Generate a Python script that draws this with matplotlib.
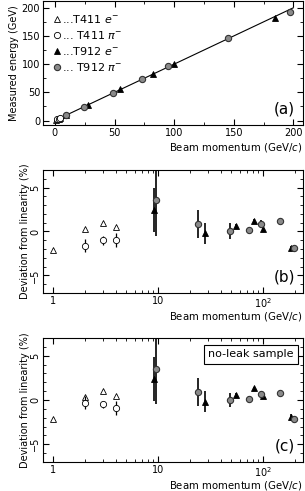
import matplotlib.pyplot as plt
import numpy as np
from matplotlib.ticker import FixedLocator, FixedFormatter, NullFormatter

plt.rcParams['font.family'] = 'DejaVu Sans'
plt.rcParams['font.size'] = 7

# T411 electrons / pions, T912 electrons / pions
p_t411e = [1, 2, 3, 4]
p_t411p = [2, 3, 4]
p_t912e = [9.2, 28, 55, 82, 100, 185]
p_t912p = [9.5, 24, 49, 73, 95, 145, 197]

# deviation from linearity (%) - panel (b), all events
dev_t411e = [-2.1, 0.3, 1.0, 0.5]
dev_t411p = [-1.6, -1.0, -1.0]
err_t411p = [0.7, 0.5, 0.8]
dev_t912e = [2.4, -0.2, 0.6, 1.2, 0.3, -1.9]
err_t912e = [2.5, 1.2, 0.2, 0.2, 0.2, 0.2]
dev_t912p = [3.6, 0.9, 0.1, 0.2, 0.9, 1.2, -1.9]
err_t912p = [4.1, 1.6, 0.9, 0.2, 0.4, 0.2, 0.2]

# panel (c), no-leak sample
nl_t411e = [-2.1, 0.3, 1.0, 0.5]
nl_t411p = [-0.3, -0.5, -0.9]
nl_err_t411p = [0.7, 0.4, 0.8]
nl_t912e = [2.4, -0.2, 0.6, 1.3, 0.4, -1.9]
nl_err_t912e = [2.5, 1.2, 0.2, 0.2, 0.2, 0.3]
nl_t912p = [3.5, 0.9, 0.0, 0.1, 0.7, 0.8, -2.1]
nl_err_t912p = [4.0, 1.6, 0.8, 0.3, 0.3, 0.2, 0.3]

xlab = 'Beam momentum (GeV/$c$)'

fig = plt.figure(figsize=(3.05, 4.91), dpi=100)
ax_a = fig.add_axes([0.141, 0.7454, 0.852, 0.2525])
ax_b = fig.add_axes([0.141, 0.4033, 0.852, 0.2505])
ax_c = fig.add_axes([0.141, 0.0591, 0.852, 0.2525])

ms = 4.5
st_e411 = dict(marker='^', mfc='white', mec='black', mew=0.6, ms=ms, ls='none')
st_p411 = dict(marker='o', mfc='white', mec='black', mew=0.6, ms=ms, ls='none')
st_e912 = dict(marker='^', mfc='black', mec='black', mew=0.6, ms=ms, ls='none')
st_p912 = dict(marker='o', mfc='#8a8a8a', mec='#333333', mew=0.8, ms=ms, ls='none')

# (a) measured energy
meas = lambda p, d: np.array(p) * (1 + np.array(d) / 100)
line = np.array([0, 200])
ax_a.plot(line, line, color='black', lw=0.8)
ax_a.plot(p_t411e, meas(p_t411e, dev_t411e), label='...T411 $e^{-}$', **st_e411)
ax_a.plot(p_t411p, meas(p_t411p, dev_t411p), label='... T411 $\\pi^{-}$', **st_p411)
ax_a.plot(p_t912e, meas(p_t912e, dev_t912e), label='...T912 $e^{-}$', **st_e912)
ax_a.plot(p_t912p, meas(p_t912p, dev_t912p), label='... T912 $\\pi^{-}$', **st_p912)
ax_a.set_xlim(-10, 208)
ax_a.set_ylim(-8, 212)
ax_a.set_xticks([0, 50, 100, 150, 200])
ax_a.set_xticks([25, 75, 125, 175], minor=True)
ax_a.set_yticks([0, 50, 100, 150, 200])
ax_a.set_yticks([25, 75, 125, 175], minor=True)
ax_a.set_ylabel('Measured energy (GeV)', labelpad=2)
ax_a.set_xlabel(xlab, ha='right', fontsize=7.3)
ax_a.xaxis.set_label_coords(1.0, -0.13)
leg = ax_a.legend(loc='upper left', frameon=False, handlelength=0.4, handletextpad=0.2,
                  fontsize=8, labelspacing=0.35, borderaxespad=0.7)
ax_a.text(0.97, 0.07, '(a)', transform=ax_a.transAxes, ha='right', va='bottom', fontsize=11)


def dev_panel(ax, de411, dp411, ep411, de912, ee912, dp912, ep912, tag):
    ax.plot(p_t411e, de411, **st_e411)
    ax.errorbar(p_t411p, dp411, yerr=ep411, ecolor='black', elinewidth=0.9, capsize=0, **st_p411)
    ax.errorbar(p_t912e, de912, yerr=ee912, ecolor='black', elinewidth=1.2, capsize=0, **st_e912)
    ax.errorbar(p_t912p, dp912, yerr=ep912, ecolor='black', elinewidth=1.2, capsize=0, **st_p912)
    ax.set_xscale('log')
    ax.set_xlim(0.8, 240)
    ax.set_ylim(-7, 7)
    ax.xaxis.set_major_locator(FixedLocator([1, 10, 100]))
    ax.xaxis.set_major_formatter(FixedFormatter(['1', '10', '$10^2$']))
    minors = [v * d for d in (1, 10, 100) for v in range(2, 10)]
    ax.xaxis.set_minor_locator(FixedLocator([m for m in minors if m < 240]))
    ax.xaxis.set_minor_formatter(NullFormatter())
    ax.set_yticks([-5, 0, 5])
    ax.set_yticks([-6, -4, -3, -2, -1, 1, 2, 3, 4, 6], minor=True)
    for t in ax.get_yticklabels():
        t.set_rotation(90)
        t.set_va('center')
    ax.set_ylabel('Deviation from linearity (%)', labelpad=0)
    ax.set_xlabel(xlab, ha='right', fontsize=7.3)
    ax.xaxis.set_label_coords(1.0, -0.135)
    ax.text(0.97, 0.07, tag, transform=ax.transAxes, ha='right', va='bottom', fontsize=11)


dev_panel(ax_b, dev_t411e, dev_t411p, err_t411p, dev_t912e, err_t912e, dev_t912p, err_t912p, '(b)')
dev_panel(ax_c, nl_t411e, nl_t411p, nl_err_t411p, nl_t912e, nl_err_t912e, nl_t912p, nl_err_t912p, '(c)')
ax_c.text(0.965, 0.87, 'no-leak sample', transform=ax_c.transAxes, ha='right', va='center',
          fontsize=8, bbox=dict(boxstyle='square,pad=0.4', fc='white', ec='black', lw=0.8))

for ax in (ax_a, ax_b, ax_c):
    ax.tick_params(which='both', direction='in', top=True, right=True, labelsize=7, pad=2)
    ax.tick_params(which='major', length=4)
    ax.tick_params(which='minor', length=2)

fig.savefig('out.png', dpi=100)
